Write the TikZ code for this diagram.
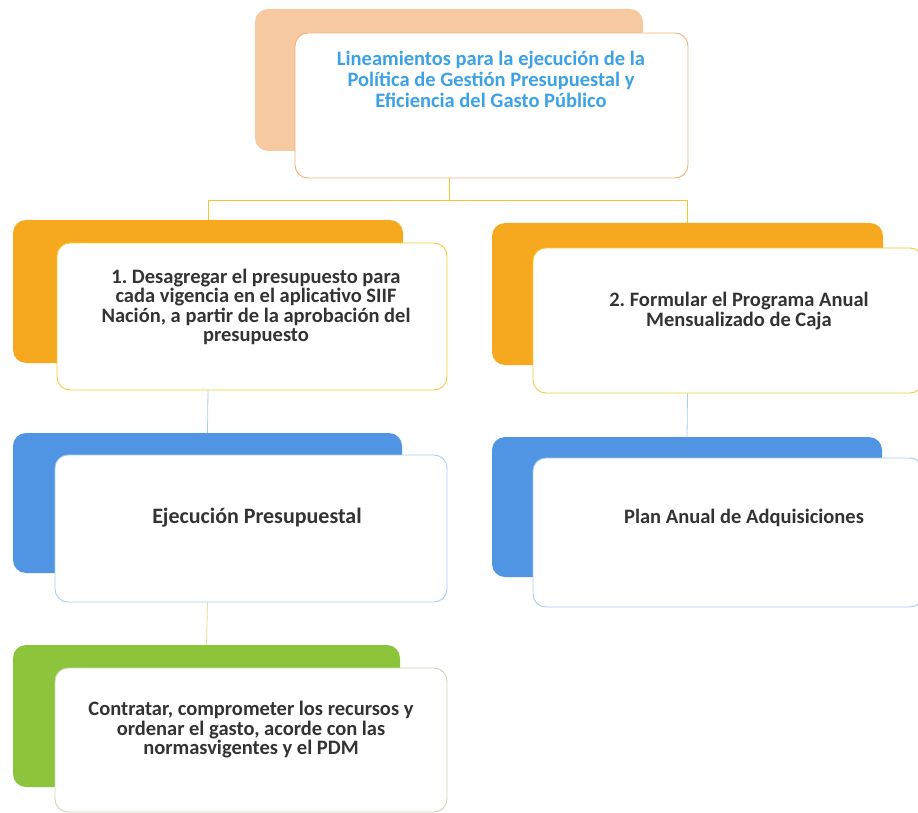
\documentclass[tikz,border=0pt]{standalone}
\usepackage{fontspec}
\setmainfont{Carlito}
\frenchspacing
\definecolor{peach}{HTML}{F6C9A0}
\definecolor{peachline}{HTML}{EFB27C}
\definecolor{orangeb}{HTML}{F6A91E}
\definecolor{yellowline}{HTML}{F3CD3A}
\definecolor{blueb}{HTML}{5094E4}
\definecolor{blueline}{HTML}{A9CCEF}
\definecolor{greenb}{HTML}{8CC43C}
\definecolor{greenline}{HTML}{CCD6B4}
\definecolor{titleblue}{HTML}{3CA2E6}
\definecolor{txt}{HTML}{333333}
\definecolor{connyel}{HTML}{F2C832}
\definecolor{connlite}{HTML}{E6DFA2}
\begin{document}
\begin{tikzpicture}[x=1pt,y=-1pt,
  back/.style={rounded corners=13pt, draw=none, inner sep=0pt},
  front/.style={rounded corners=13pt, fill=white, line width=0.9pt, inner sep=0pt},
  lbl/.style={align=center, font=\fontsize{20.5}{19.5}\selectfont\bfseries, text=txt, inner sep=0pt},
  conn/.style={line width=0.8pt}]
\useasboundingbox (0,0) rectangle (918,813);
\clip (0,0) rectangle (918,813);
% back boxes
\node[back, fill=peach, minimum width=388pt, minimum height=142pt] (topB) at (449,80) {};
\node[back, fill=orangeb, minimum width=390pt, minimum height=143pt] (l1B) at (208,291.5) {};
\node[back, fill=orangeb, minimum width=391pt, minimum height=142pt] (r1B) at (687.5,294) {};
\node[back, fill=blueb, minimum width=389pt, minimum height=140pt] (l2B) at (207.5,503) {};
\node[back, fill=blueb, minimum width=390pt, minimum height=140pt] (r2B) at (687,507) {};
\node[back, fill=greenb, minimum width=387pt, minimum height=142pt] (gB) at (206.5,716) {};
% front boxes
\node[front, draw=peachline, minimum width=393pt, minimum height=145pt] (topF) at (491.5,105.5) {};
\node[front, draw=yellowline, minimum width=390pt, minimum height=147pt] (l1F) at (252,316.5) {};
\node[front, draw=yellowline, minimum width=390pt, minimum height=145pt] (r1F) at (728,320.5) {};
\node[front, draw=blueline, minimum width=392pt, minimum height=147pt] (l2F) at (251,528.5) {};
\node[front, draw=blueline, minimum width=390pt, minimum height=149pt] (r2F) at (728,532.5) {};
\node[front, draw=greenline, minimum width=392pt, minimum height=144pt] (gF) at (251,740) {};
% connectors drawn in visible gaps
\coordinate (hub) at (449,200);
\draw[conn, draw=connyel] (topF.south -| topB.south) -- (hub);
\draw[conn, draw=connyel] (hub) -| (l1B.north);
\draw[conn, draw=connyel] (hub) -| (r1B.north);
\draw[conn, draw=blueline] (l1F.south -| l1B.south) -- (l2B.north);
\draw[conn, draw=blueline] (r1F.south -| r1B.south) -- (r2B.north);
\draw[conn, draw=connlite] (l2F.south -| l2B.south) -- (gB.north);
% labels
\node[lbl, text=titleblue, font=\fontsize{20.5}{21}\selectfont\bfseries] (topT) at (491,79) {Lineamientos para la ejecución de la\\Política de Gestión Presupuestal y\\Eficiencia del Gasto Público};
\node[lbl] (l1T) at (256,307) {1. Desagregar el presupuesto para\\cada vigencia en el aplicativo SIIF\\Nación, a partir de la aprobación del\\presupuesto};
\node[lbl] (r1T) at (739,311) {2. Formular el Programa Anual\\Mensualizado de Caja};
\node[lbl, font=\fontsize{22}{22}\selectfont\bfseries] (l2T) at (257,518) {Ejecución Presupuestal};
\node[lbl] (r2T) at (744,518) {Plan Anual de Adquisiciones};
\node[lbl] (gT) at (251,730) {Contratar, comprometer los recursos y\\ordenar el gasto, acorde con las\\normasvigentes y el PDM};
\end{tikzpicture}
\end{document}
